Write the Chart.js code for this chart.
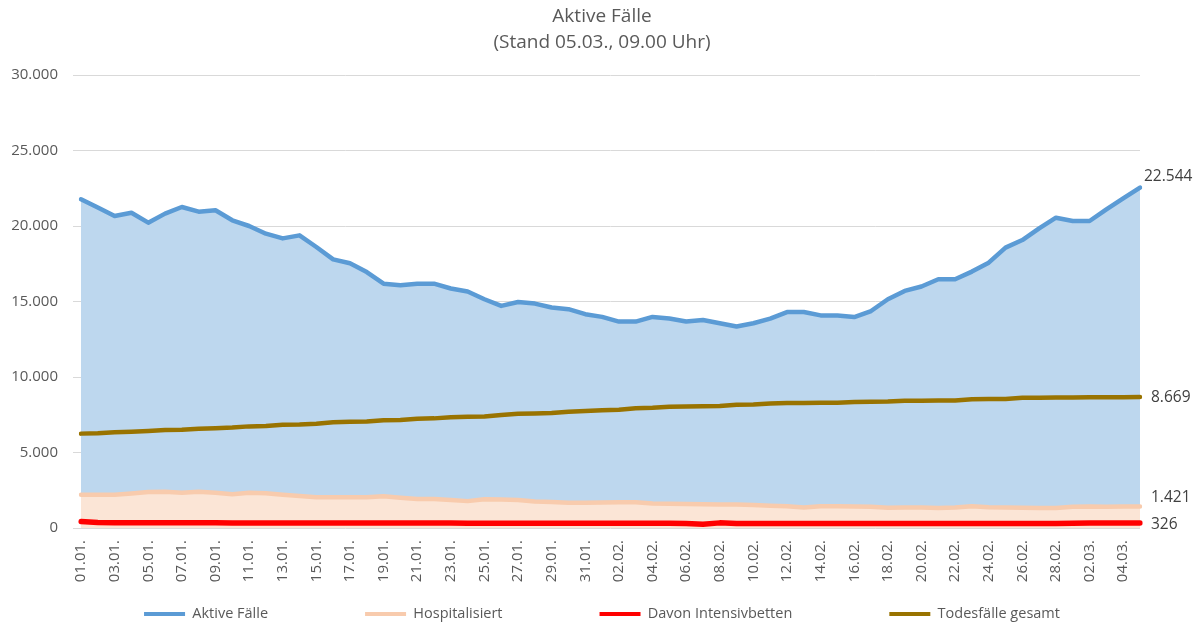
<!DOCTYPE html>
<html><head><meta charset="utf-8">
<script src="https://cdn.jsdelivr.net/npm/chart.js@4.4.1/dist/chart.umd.min.js"></script>
<style>html,body{margin:0;padding:0;background:#fff;}#wrap{width:1204px;height:627px;}</style>
</head><body><div id="wrap"><canvas id="c" width="1204" height="627"></canvas></div>
<script>
const categories = [
 '01.01.','02.01.','03.01.','04.01.','05.01.','06.01.','07.01.','08.01.','09.01.','10.01.',
 '11.01.','12.01.','13.01.','14.01.','15.01.','16.01.','17.01.','18.01.','19.01.','20.01.',
 '21.01.','22.01.','23.01.','24.01.','25.01.','26.01.','27.01.','28.01.','29.01.','30.01.','31.01.',
 '01.02.','02.02.','03.02.','04.02.','05.02.','06.02.','07.02.','08.02.','09.02.','10.02.',
 '11.02.','12.02.','13.02.','14.02.','15.02.','16.02.','17.02.','18.02.','19.02.','20.02.',
 '21.02.','22.02.','23.02.','24.02.','25.02.','26.02.','27.02.','28.02.',
 '01.03.','02.03.','03.03.','04.03.','05.03.'
];
const aktiveFaelle = [
 21770,21230,20660,20880,20220,20820,21260,20950,21040,20380,
 20000,19490,19180,19380,18610,17790,17530,16950,16180,16070,
 16180,16180,15860,15660,15150,14710,14970,14860,14600,14490,14160,
 13980,13670,13670,13980,13870,13670,13780,13560,13340,13560,
 13870,14300,14300,14080,14080,13970,14370,15150,15700,15990,
 16470,16470,16980,17570,18570,19070,19840,20550,
 20330,20330,21100,21830,22544
];
const hospitalisiert = [
 2200,2200,2200,2280,2380,2400,2330,2400,2330,2230,
 2330,2300,2200,2120,2040,2040,2040,2040,2100,2010,
 1920,1920,1850,1780,1900,1890,1860,1760,1720,1680,1670,
 1690,1700,1700,1620,1600,1590,1570,1560,1550,1520,
 1470,1440,1360,1440,1440,1420,1400,1340,1350,1360,
 1330,1360,1440,1380,1350,1340,1330,1330,
 1400,1420,1410,1420,1421
];
const intensivbetten = [
 430,360,350,350,345,345,340,340,340,335,
 335,335,330,330,330,330,330,330,325,325,
 325,325,325,320,320,320,320,320,320,315,315,
 315,315,315,315,310,300,250,340,290,300,
 300,300,300,300,300,295,295,295,295,290,
 290,290,290,290,295,295,300,300,
 320,326,326,326,326
];
const todesfaelle = [
 6250,6270,6340,6370,6420,6490,6510,6580,6610,6650,
 6730,6750,6830,6850,6910,7000,7030,7050,7140,7160,
 7240,7260,7330,7360,7390,7480,7560,7580,7610,7700,7750,
 7800,7830,7930,7960,8030,8050,8060,8080,8160,8180,
 8250,8270,8280,8290,8300,8340,8360,8370,8420,8430,
 8440,8450,8530,8540,8550,8620,8630,8640,
 8650,8660,8664,8667,8669
];
const seriesNames = ['Aktive Fälle','Hospitalisiert','Davon Intensivbetten','Todesfälle gesamt'];
const titleLines = ['Aktive Fälle','(Stand 05.03., 09.00 Uhr)'];
const yMin = 0, yMax = 30000, yStep = 5000;

function fmt(v){
  const s = String(Math.round(v));
  return s.replace(/\B(?=(\d{3})+(?!\d))/g, '.');
}

const FONT = '"Open Sans", "Liberation Sans", sans-serif';

const endLabels = {
  id: 'endLabels',
  afterDatasetsDraw(chart, args, opts) {
    const ctx = chart.ctx;
    ctx.save();
    ctx.font = '15.5px ' + FONT;
    ctx.fillStyle = '#404040';
    ctx.textBaseline = 'middle';
    ctx.textAlign = 'left';
    chart.data.datasets.forEach((ds, i) => {
      const meta = chart.getDatasetMeta(i);
      const pt = meta.data[meta.data.length - 1];
      const o = opts.offsets[i];
      ctx.fillText(fmt(ds.data[ds.data.length - 1]), pt.x + o[0], pt.y + o[1]);
    });
    ctx.restore();
  }
};

const legendShift = {
  id: 'legendShift',
  afterLayout(chart, args, opts) {
    const lg = chart.legend;
    if (!lg) return;
    lg.top = opts.textY - opts.padding - opts.fontSize / 2;
    lg.bottom = chart.height;
  }
};

const LEGEND_PAD = 97;
const LEGEND_FONT = 14.5;

new Chart(document.getElementById('c'), {
  type: 'line',
  data: {
    labels: categories,
    datasets: [
      { label: seriesNames[0], data: aktiveFaelle, borderColor: '#5b9bd5', backgroundColor: '#bdd7ee',
        fill: 'origin', borderWidth: 4.5, order: 4 },
      { label: seriesNames[1], data: hospitalisiert, borderColor: '#f8cbad', backgroundColor: '#fbe5d6',
        fill: 'origin', borderWidth: 4.5, order: 3 },
      { label: seriesNames[2], data: intensivbetten, borderColor: '#ff0000', backgroundColor: '#ff0000',
        fill: false, borderWidth: 5.5, order: 2 },
      { label: seriesNames[3], data: todesfaelle, borderColor: '#997300', backgroundColor: '#997300',
        fill: false, borderWidth: 4.5, order: 1 }
    ]
  },
  options: {
    responsive: false,
    animation: false,
    devicePixelRatio: 1,
    layout: { padding: { left: 0, right: 0, top: 0, bottom: 0 } },
    elements: {
      point: { radius: 0, hoverRadius: 0 },
      line: { tension: 0, borderJoinStyle: 'round', borderCapStyle: 'round' }
    },
    scales: {
      x: {
        offset: false,
        grid: { display: false, drawTicks: false },
        border: { display: false },
        ticks: {
          autoSkip: false, maxRotation: 90, minRotation: 90, padding: 12,
          color: '#595959', font: { family: FONT, size: 15 },
          callback: function(value, index) { return index % 2 === 0 ? categories[index] : ''; }
        },
        afterFit: s => { s.height = 69; }
      },
      y: {
        min: yMin, max: yMax,
        grid: { color: '#d9d9d9', lineWidth: 1, drawTicks: true, tickLength: 8, tickColor: '#d9d9d9' },
        border: { display: false },
        ticks: { stepSize: yStep, padding: 15, color: '#595959', font: { family: FONT, size: 15 },
          callback: v => fmt(v) },
        afterFit: s => { s.width = 81; }
      },
      yRight: {
        position: 'right',
        display: true,
        grid: { display: false, drawTicks: false },
        border: { display: false },
        ticks: { display: false },
        afterFit: s => { s.width = 64; }
      }
    },
    plugins: {
      title: {
        display: true,
        text: titleLines,
        color: '#595959',
        font: { family: FONT, size: 19, weight: 'normal', lineHeight: '26px' },
        padding: { top: 4, bottom: 19 }
      },
      legend: {
        display: true,
        position: 'bottom',
        maxHeight: 30,
        labels: {
          color: '#595959',
          font: { family: FONT, size: LEGEND_FONT },
          boxWidth: 41, boxHeight: 4,
          padding: LEGEND_PAD,
          generateLabels: function(chart) {
            const items = Chart.defaults.plugins.legend.labels.generateLabels(chart);
            items.forEach(it => { it.fillStyle = it.strokeStyle; it.lineWidth = 0; });
            items.sort((a, b) => a.datasetIndex - b.datasetIndex);
            return items;
          }
        }
      },
      legendShift: { textY: 614, padding: LEGEND_PAD, fontSize: LEGEND_FONT },
      endLabels: { offsets: [[4, -11], [11, -9], [11, 2], [11, 0]] },
      tooltip: { enabled: false }
    }
  },
  plugins: [endLabels, legendShift]
});
</script>
</body></html>
